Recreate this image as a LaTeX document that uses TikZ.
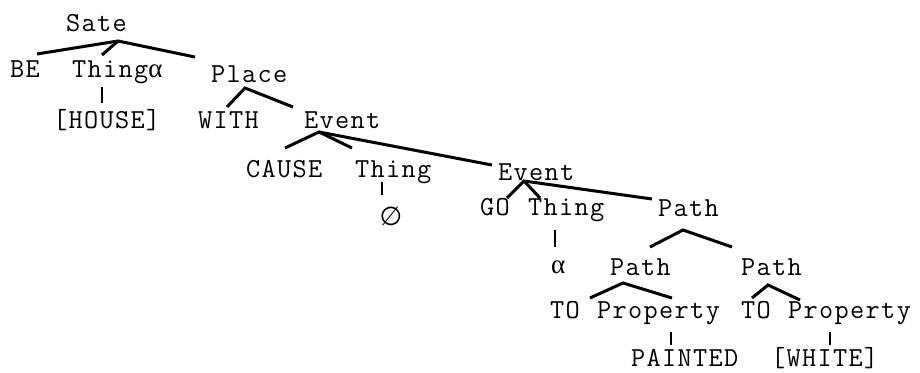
\documentclass[tikz,border=0pt]{standalone}
\usepackage{fontspec}
\newfontfamily\treefont[LetterSpace=5]{Latin Modern Mono}
\newfontfamily\greekfont{Liberation Serif}
\newfontfamily\symfont{DejaVu Sans}
\begin{document}
\begin{tikzpicture}[x=1pt,y=-1pt,
  word/.style={anchor=base west,inner sep=0pt,outer sep=0pt,
    font=\treefont\fontsize{27.5}{30}\selectfont},
  glyph/.style={anchor=center,inner sep=0pt,outer sep=0pt},
  branch/.style={line width=3pt,line cap=butt},
  tick/.style={line width=2.2pt,line cap=butt}]
\useasboundingbox (0,0) rectangle (920,372);

% ---- words of the tree ----
\node[word] (sate)   at (66,31)  {Sate};
\node[word] (be)     at (10,77)  {BE};
\node[word] (thA)    at (72,77)  {Thing{\greekfont\fontsize{27}{30}\selectfont α}};
\node[word] (place)  at (211,82) {Place};
\node[word] (house)  at (53,128) {[HOUSE]};
\node[word] (with)   at (198,128) {WITH};
\node[word] (evA)    at (304,128) {Event};
\node[word] (cause)  at (246,177) {CAUSE};
\node[word] (thB)    at (355,177) {Thing};
\node[word] (evB)    at (498,180) {Event};
\node[glyph,font=\symfont\fontsize{26}{30}\selectfont] (empty) at (391,216) {∅};
\node[word] (go)     at (480,215) {GO};
\node[word] (thC)    at (528,215) {Thing};
\node[word] (pathA)  at (658,216) {Path};
\node[word,font=\greekfont\fontsize{27}{30}\selectfont] (alpha) at (551,273) {α};
\node[word] (pathB)  at (610,275) {Path};
\node[word] (pathC)  at (741,275) {Path};
\node[word] (toA)    at (550,318) {TO};
\node[word] (propA)  at (597,318) {Property};
\node[word] (toB)    at (741,318) {TO};
\node[word] (propB)  at (788,318) {Property};
\node[word] (paint)  at (631,366) {PAINTED};
\node[word] (white)  at (771,366) {[WHITE]};

% ---- branching points and branch ends ----
\coordinate (sateR)  at (118,41);
\coordinate (beT)    at (37,54);
\coordinate (thAT)   at (102,55);
\coordinate (placeT) at (195,57);
\coordinate (thAB)   at (102,87);
\coordinate (houseT) at (102,103);
\coordinate (placeR) at (245,88);
\coordinate (withT)  at (227,107);
\coordinate (evAT)   at (293,107);
\coordinate (evAR)   at (319,132);
\coordinate (causeT) at (285,148);
\coordinate (thBT)   at (352,148);
\coordinate (evBT)   at (492,165);
\coordinate (thBB)   at (382,182);
\coordinate (emptyT) at (382,195);
\coordinate (evBR)   at (524,181);
\coordinate (goT)    at (507,198);
\coordinate (thCT)   at (540,198);
\coordinate (pathAT) at (652,199);
\coordinate (thCB)   at (555,230);
\coordinate (alphaT) at (555,247);
\coordinate (pathAR) at (683,230);
\coordinate (pathBT) at (650,247);
\coordinate (pathCT) at (732,247);
\coordinate (pathBR) at (623,283);
\coordinate (toAT)   at (590,298);
\coordinate (propAT) at (672,298);
\coordinate (pathCR) at (768,285);
\coordinate (toBT)   at (752,298);
\coordinate (propBT) at (800,300);
\coordinate (propAB) at (671,332);
\coordinate (paintT) at (671,345);
\coordinate (propBB) at (830,332);
\coordinate (whiteT) at (830,345);

% ---- branches ----
\draw[branch] (beT) -- (sateR) -- (placeT);
\draw[branch] (sateR) -- (thAT);
\draw[tick] (thAB) -- (houseT);
\draw[branch] (withT) -- (placeR) -- (evAT);
\draw[branch] (causeT) -- (evAR) -- (evBT);
\draw[branch] (evAR) -- (thBT);
\draw[tick] (thBB) -- (emptyT);
\draw[branch] (goT) -- (evBR) -- (pathAT);
\draw[branch] (evBR) -- (thCT);
\draw[tick] (thCB) -- (alphaT);
\draw[branch] (pathBT) -- (pathAR) -- (pathCT);
\draw[branch] (toAT) -- (pathBR) -- (propAT);
\draw[branch] (toBT) -- (pathCR) -- (propBT);
\draw[tick] (propAB) -- (paintT);
\draw[tick] (propBB) -- (whiteT);
\end{tikzpicture}
\end{document}
